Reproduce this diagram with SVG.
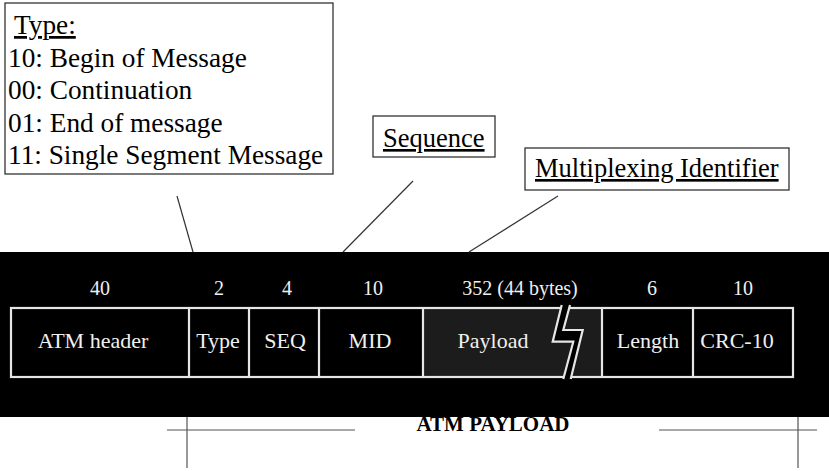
<svg xmlns="http://www.w3.org/2000/svg" width="829" height="471" viewBox="0 0 829 471" font-family="Liberation Serif,'Times New Roman',serif">
<style>
.note{fill:#fff;stroke:#333;stroke-width:1.3}
.nt{font-size:26.5px;fill:#000}
.tn{font-size:27.3px}
.ul{text-decoration:underline}
.lead{stroke:#333;stroke-width:1.2;fill:none}
.fld{fill:none;stroke:#e6e6e6;stroke-width:2.2}
.ft{font-size:22px;fill:#f0f0f0;text-anchor:middle}
.num{font-size:20px;fill:#f0f0f0;text-anchor:middle}
.cut{stroke:#555;stroke-width:1.2}
</style>
<rect id="band" x="0" y="252" width="829" height="165" fill="#000"/>
<g id="payload-fill"><rect x="423" y="308" width="179" height="69" fill="#1c1c1c"/></g>
<g id="fields">
<rect class="fld" x="11" y="308" width="782" height="69"/>
<line class="fld" x1="189" y1="308" x2="189" y2="377"/>
<line class="fld" x1="249" y1="308" x2="249" y2="377"/>
<line class="fld" x1="319" y1="308" x2="319" y2="377"/>
<line class="fld" x1="423" y1="308" x2="423" y2="377"/>
<line class="fld" x1="602" y1="308" x2="602" y2="377"/>
<line class="fld" x1="693" y1="308" x2="693" y2="377"/>
<polygon points="561.7,305 552.7,341.7 573.3,341.7 563.3,379 570.7,379 582.7,330 563.3,330 570,305" fill="#000"/>
<polyline class="fld" points="561.7,305 552.7,341.7 573.3,341.7 563.3,379"/>
<polyline class="fld" points="570,305 563.3,330 582.7,330 570.7,379"/>
</g>
<g id="numbers">
<text class="num" x="100" y="295">40</text>
<text class="num" x="219" y="295">2</text>
<text class="num" x="287" y="295">4</text>
<text class="num" x="373" y="295">10</text>
<text class="num" x="520" y="295">352 (44 bytes)</text>
<text class="num" x="652" y="295">6</text>
<text class="num" x="743" y="295">10</text>
</g>
<g id="field-labels">
<text class="ft" x="93" y="348">ATM header</text>
<text class="ft" x="218" y="348">Type</text>
<text class="ft" x="285" y="348">SEQ</text>
<text class="ft" x="370" y="348">MID</text>
<text class="ft" x="493" y="348">Payload</text>
<text class="ft" x="648" y="348">Length</text>
<text class="ft" x="737" y="348">CRC-10</text>
</g>
<g id="type-note">
<rect class="note" x="5" y="3" width="328" height="171"/>
<text class="nt tn" x="14" y="34"><tspan class="ul">Type:</tspan></text>
<text class="nt tn" x="8" y="67">10: Begin of Message</text>
<text class="nt tn" x="8" y="99">00: Continuation</text>
<text class="nt tn" x="8" y="132">01: End of message</text>
<text class="nt tn" x="8" y="164">11: Single Segment Message</text>
</g>
<g id="sequence-note">
<rect class="note" x="373" y="116" width="122" height="41"/>
<text class="nt ul" x="383" y="147">Sequence</text>
</g>
<g id="mid-note">
<rect class="note" x="525" y="148" width="264" height="42"/>
<text class="nt ul" x="535" y="177">Multiplexing Identifier</text>
</g>
<g id="connectors">
<line class="lead" x1="177" y1="196" x2="193" y2="252"/>
<line class="lead" x1="413" y1="181" x2="343" y2="252"/>
<line class="lead" x1="558" y1="196" x2="469" y2="252"/>
</g>
<g id="atm-payload">
<text x="493" y="431" text-anchor="middle" font-weight="bold" font-size="21" fill="#000">ATM PAYLOAD</text>
<line class="cut" x1="167" y1="430" x2="355" y2="430"/>
<line class="cut" x1="187" y1="417" x2="187" y2="468"/>
<line class="cut" x1="659" y1="430" x2="817" y2="430"/>
<line class="cut" x1="798" y1="417" x2="798" y2="468"/>
</g>
</svg>
